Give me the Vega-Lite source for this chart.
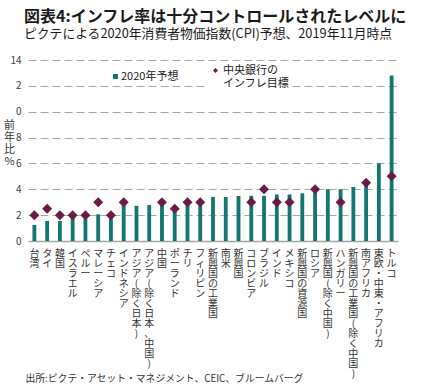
{
  "$schema": "https://vega.github.io/schema/vega-lite/v6.json",
  "autosize": "none",
  "padding": {"left": 28, "top": 60, "right": 23, "bottom": 150},
  "width": 370,
  "height": 181,
  "background": "white",
  "config": {
    "font": "Noto Sans CJK JP",
    "view": {"stroke": null},
    "title": {"anchor": "start", "frame": "group"}
  },
  "title": {
    "text": "図表4:インフレ率は十分コントロールされたレベルに",
    "subtitle": "ピクテによる2020年消費者物価指数(CPI)予想、2019年11月時点",
    "fontSize": 16,
    "fontWeight": "bold",
    "color": "#1a1a1a",
    "subtitleFontSize": 12.8,
    "subtitleColor": "#1a1a1a",
    "subtitlePadding": 3,
    "offset": 14,
    "dx": -4
  },
  "data": {
    "values": [
      {"国": "台湾", "予想": 1.24, "目標": 2},
      {"国": "タイ", "予想": 1.55, "目標": 2.5},
      {"国": "韓国", "予想": 1.55, "目標": 2},
      {"国": "イスラエル", "予想": 1.75, "目標": 2},
      {"国": "ペルー", "予想": 1.75, "目標": 2},
      {"国": "マレーシア", "予想": 2.06, "目標": 3},
      {"国": "チェコ", "予想": 1.75, "目標": 2},
      {"国": "インドネシア", "予想": 2.78, "目標": 3},
      {"国": "アジア(除く日本)", "予想": 2.72, "目標": null},
      {"国": "アジア(除く日本、中国)", "予想": 2.78, "目標": null},
      {"国": "中国", "予想": 2.9, "目標": 3},
      {"国": "ポーランド", "予想": 2.6, "目標": 2.5},
      {"国": "チリ", "予想": 3.0, "目標": 3},
      {"国": "フィリピン", "予想": 3.0, "目標": 3},
      {"国": "新興国の工業国", "予想": 3.4, "目標": null},
      {"国": "南米", "予想": 3.4, "目標": null},
      {"国": "新興国", "予想": 3.48, "目標": null},
      {"国": "コロンビア", "予想": 3.5, "目標": 3},
      {"国": "ブラジル", "予想": 3.5, "目標": 4},
      {"国": "インド", "予想": 3.6, "目標": 3},
      {"国": "メキシコ", "予想": 3.6, "目標": 3},
      {"国": "新興国の資源国", "予想": 3.69, "目標": null},
      {"国": "ロシア", "予想": 3.95, "目標": 4},
      {"国": "新興国(除く中国)", "予想": 4.0, "目標": null},
      {"国": "ハンガリー", "予想": 4.0, "目標": 3},
      {"国": "新興国の工業国(除く中国)", "予想": 4.18, "目標": null},
      {"国": "南アフリカ", "予想": 4.45, "目標": 4.5},
      {"国": "東欧・中東・アフリカ", "予想": 6.0, "目標": null},
      {"国": "トルコ", "予想": 12.8, "目標": 5}
    ]
  },
  "transform": [
    {"fold": ["予想", "目標"], "as": ["系列", "値"]},
    {"filter": "isValid(datum['値'])"}
  ],
  "encoding": {
    "x": {
      "field": "国",
      "type": "nominal",
      "sort": null,
      "scale": {"paddingInner": 0.7, "paddingOuter": 0.35},
      "axis": {
        "labelAngle": 0,
        "labelExpr": "split(datum.label, '')",
        "labelBaseline": "top",
        "labelAlign": "center",
        "labelLineHeight": 10,
        "labelFontSize": 10,
        "labelColor": "#333333",
        "labelPadding": 7,
        "labelOverlap": false,
        "labelLimit": 0,
        "ticks": false,
        "domainColor": "#a6a6a6",
        "domainWidth": 1.5,
        "title": "出所:ピクテ・アセット・マネジメント、CEIC、ブルームバーグ",
        "titleFontSize": 9.8,
        "titleFontWeight": "normal",
        "titleColor": "#333333",
        "titleAlign": "left",
        "titleBaseline": "middle",
        "titleX": -3,
        "titleY": 137
      }
    },
    "y": {
      "field": "値",
      "type": "quantitative",
      "scale": {"domain": [0, 14]},
      "axis": {
        "values": [0, 2, 4, 6, 8, 10, 12, 14],
        "labelExpr": "datum.value == 12 ? '2' : datum.value == 10 ? '0' : datum.label",
        "labelOverlap": false,
        "domain": false,
        "ticks": false,
        "grid": true,
        "gridDash": [8, 4],
        "gridColor": "#a6a6a6",
        "gridWidth": 1.2,
        "labelFontSize": 10,
        "labelColor": "#404040",
        "labelPadding": 7,
        "title": ["前", "年", "比", "%"],
        "titleAngle": 0,
        "titleFontSize": 11,
        "titleFontWeight": "normal",
        "titleColor": "#333333",
        "titleLineHeight": 12.3,
        "titleAlign": "center",
        "titleBaseline": "top",
        "titleX": -19,
        "titleY": 59
      }
    }
  },
  "layer": [
    {
      "transform": [{"filter": "datum['系列'] == '予想'"}],
      "mark": {"type": "bar", "color": "#12776f"},
      "encoding": {
        "color": {
          "datum": "2020年予想",
          "scale": {"range": ["#12776f"]},
          "legend": {
            "orient": "none",
            "legendX": 82,
            "legendY": 11,
            "title": null,
            "symbolType": "square",
            "symbolSize": 25,
            "labelFontSize": 11,
            "labelColor": "#1a1a1a",
            "labelOffset": 0,
            "padding": 0
          }
        }
      }
    },
    {
      "transform": [{"filter": "datum['系列'] == '目標'"}],
      "mark": {"type": "point", "shape": "diamond", "filled": true, "size": 100, "opacity": 1},
      "encoding": {
        "fill": {
          "datum": "中央銀行のインフレ目標",
          "scale": {"range": ["#6b1b48"]},
          "legend": {
            "orient": "none",
            "legendX": 180,
            "legendY": 3,
            "title": null,
            "symbolType": "diamond",
            "symbolSize": 25,
            "labelExpr": "['中央銀行の', 'インフレ目標']",
            "labelFontSize": 11,
            "labelLineHeight": 14,
            "labelBaseline": "middle",
            "labelColor": "#1a1a1a",
            "labelOffset": 2,
            "fillColor": "white",
            "padding": 2
          }
        }
      }
    }
  ]
}
